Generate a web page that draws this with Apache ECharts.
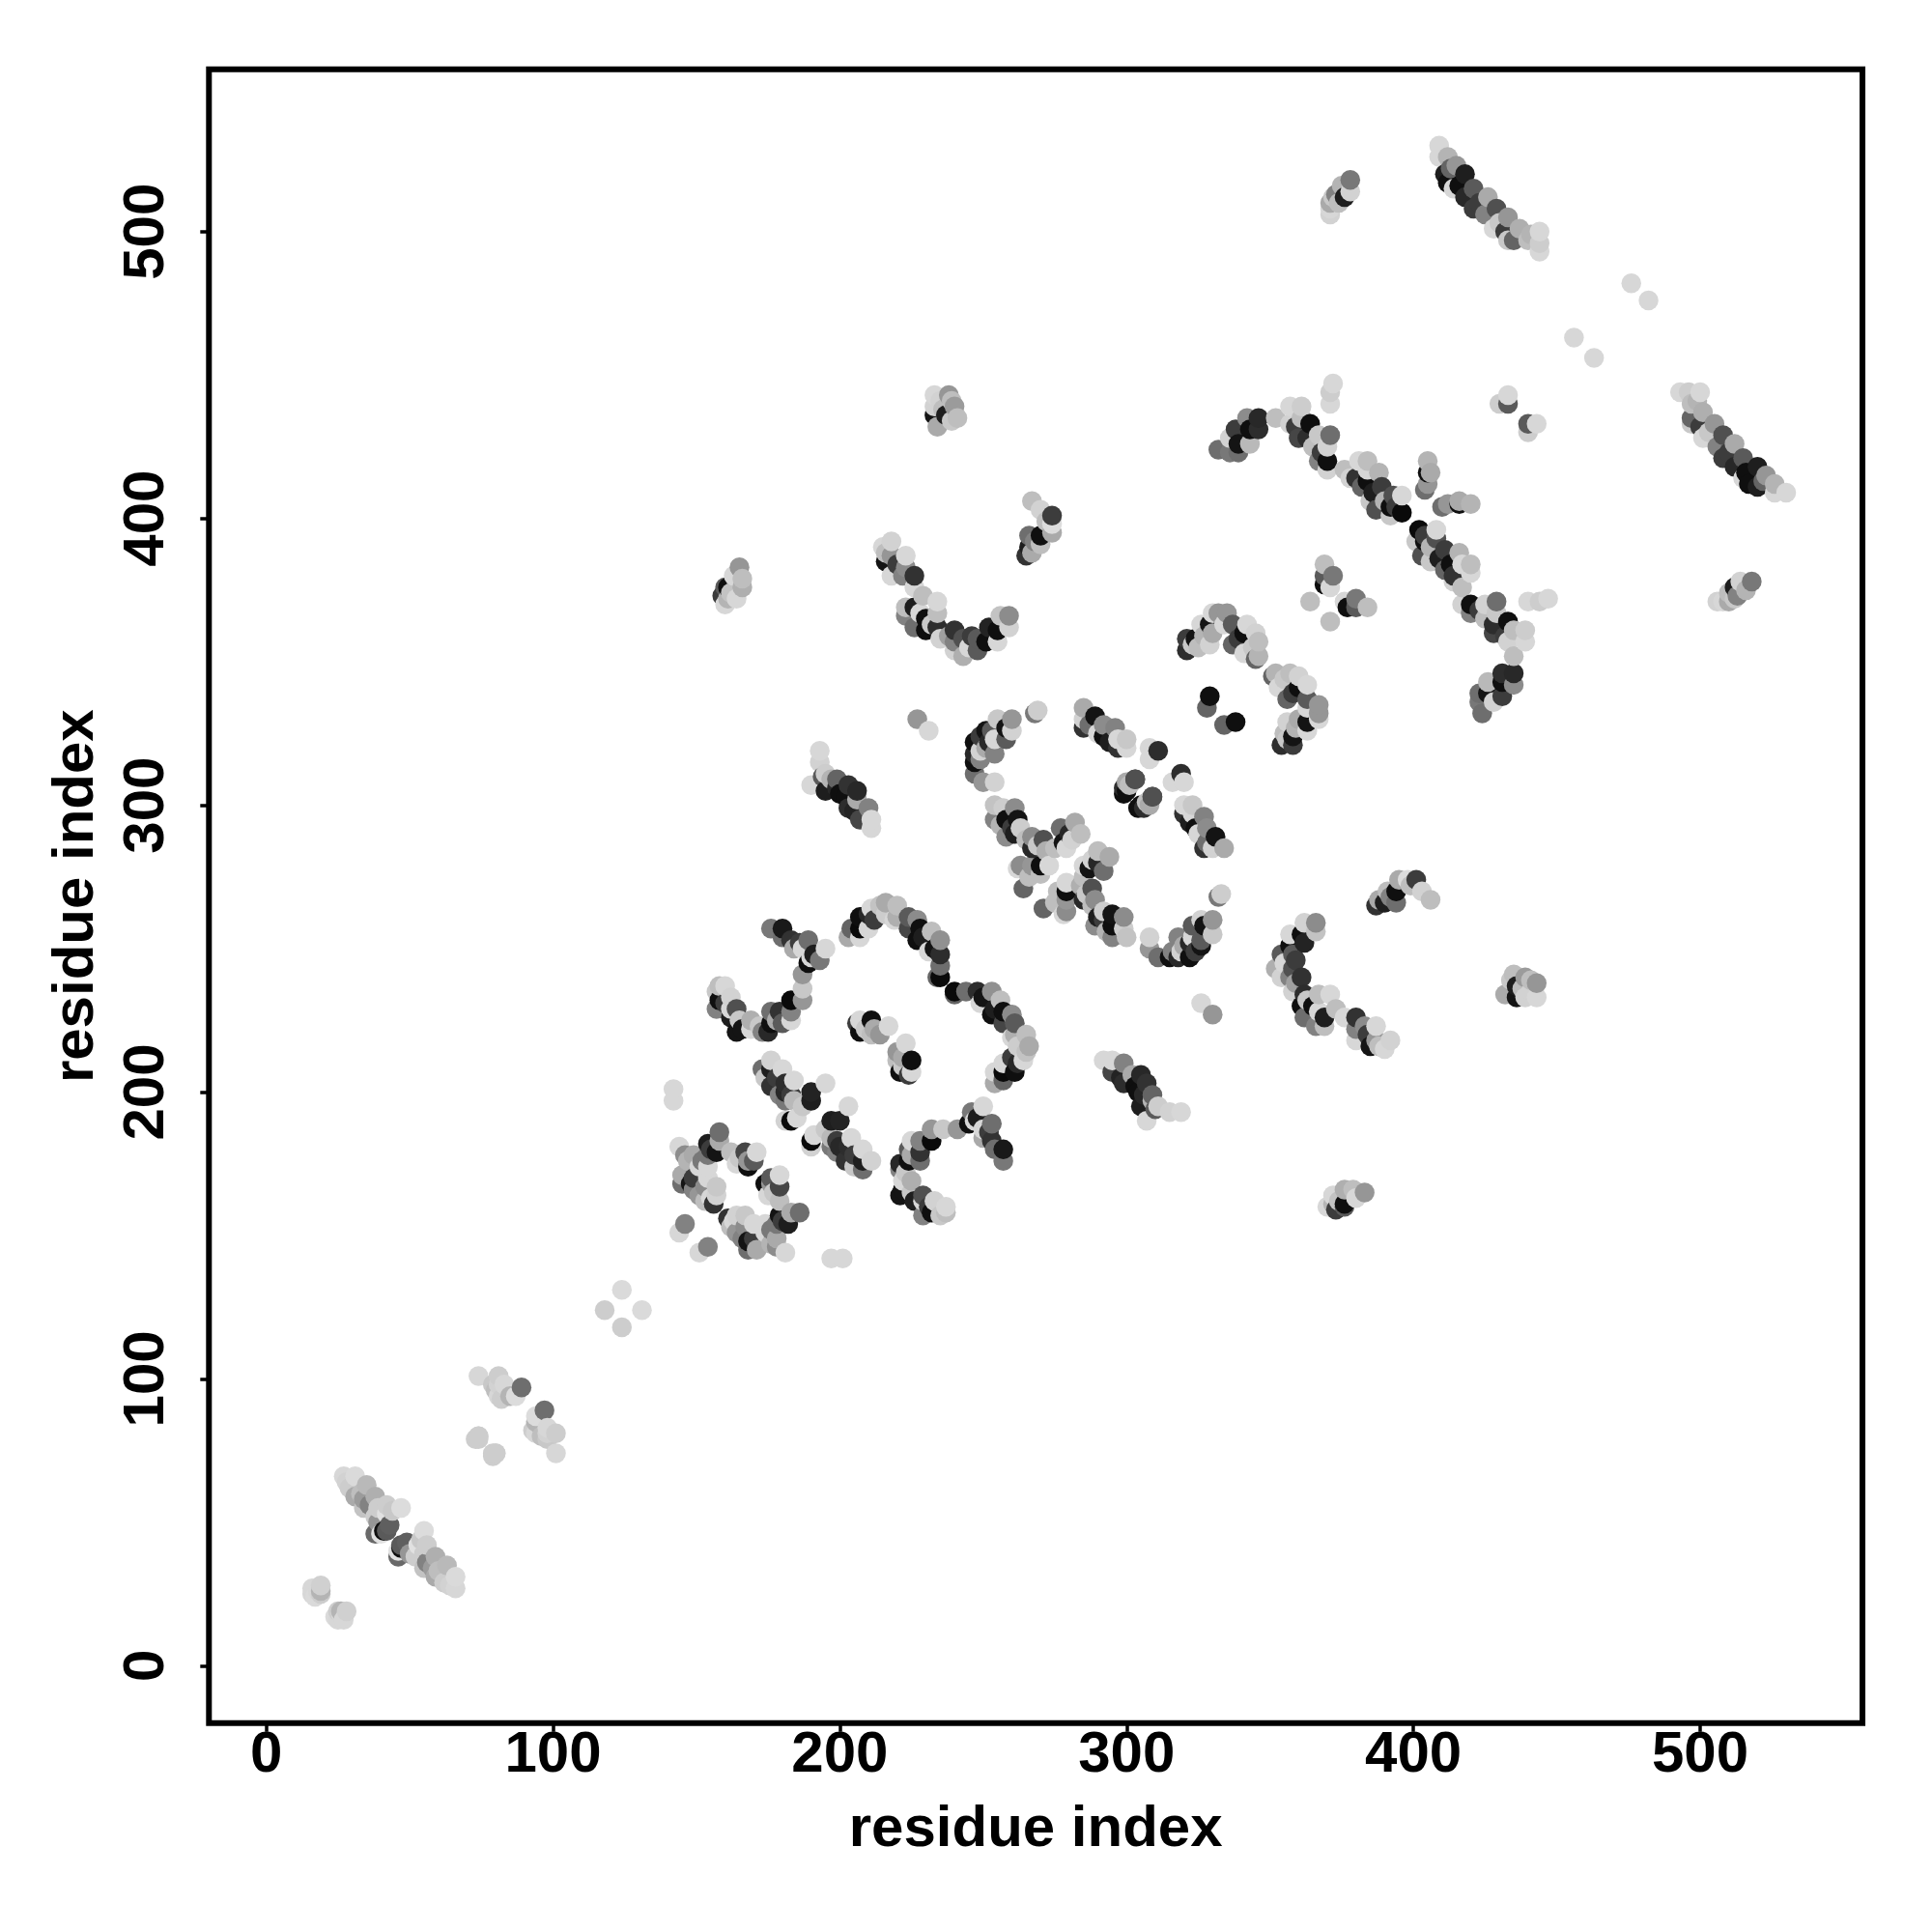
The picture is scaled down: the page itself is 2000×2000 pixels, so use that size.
<!DOCTYPE html>
<html><head><meta charset="utf-8">
<script src="https://cdn.jsdelivr.net/npm/echarts@6/dist/echarts.min.js"></script>
<style>html,body{margin:0;padding:0;background:#fff}#c{width:2000px;height:2000px}</style></head>
<body><div id="c"></div>
<script>
// Contacts as [residue i, residue j, grey level]; the map shows each contact at (i,j) and (j,i).
const termini=[[16,27,215],[19,28,208],[16,25,215],[19,25,205],[18,26,215],[17,24,218],[19,26,180]];
const sheetA=[[27,66,215],[31,66,218],[28,64,210],[35,63,185],[31,59,170],[34,58,155],[38,59,175],[42,56,205],[39,55,205],[47,55,220],[34,55,195],[38,52,205],[42,53,225],[43,49,95],[38,46,105],[40,46,225],[41,47,15],[29,62,205],[33,60,190],[36,56,130],[44,54,200],[39,50,150],[42,47,90]];
const sheetB=[[74,101,215],[81,101,205],[79,98,200],[81,94,215],[83,98,215],[85,94,180],[87,94,220],[89,97,110],[74,80,205],[81,98,210],[124,131,218],[118,124,205],[73,79,205],[80,96,190],[82,93,205],[80,74,205],[79,74,205]];
const loopA=[[142,201,215],[142,197,215],[146,154,130],[144,151,215],[144,181,215],[146,178,140],[158,186,110],[158,183,170],[154,182,30],[154,178,120],[157,179,20],[149,178,170],[154,174,215],[151,174,215],[162,179,190],[164,175,215],[167,179,70],[168,176,150],[171,179,215],[168,174,15],[145,171,170],[149,170,60],[154,170,215],[149,166,130],[153,167,140],[157,167,200],[157,164,210],[153,162,190],[156,161,50],[147,176,180],[152,176,120],[155,180,60],[148,168,20],[151,164,150],[155,163,215],[165,177,200],[170,176,90],[145,168,110]];
const strandB=[[176,211,210],[173,208,110],[176,208,30],[180,208,215],[174,205,200],[176,202,50],[181,203,45],[181,200,40],[184,204,215],[195,203,215],[190,200,35],[190,197,30],[184,197,185],[181,197,120],[185,191,215],[183,190,10],[181,190,210],[178,205,60],[183,199,60],[187,195,200],[179,199,130]];
const arcC=[[203,254,170],[204,257,100],[207,254,215],[207,257,10],[207,261,15],[210,257,215],[211,264,215],[210,262,40],[214,265,195],[216,266,170],[220,265,190],[220,261,175],[219,260,215],[224,261,90],[227,260,140],[224,257,70],[228,257,15],[232,256,190],[227,253,15],[235,253,145],[231,249,215],[235,248,45],[235,244,110],[235,240,10],[234,240,100],[212,260,60],[216,262,205],[229,254,30],[233,250,20]];
const innerD=[[206,224,60],[207,225,215],[211,225,15],[207,221,15],[211,220,190],[214,220,150],[217,223,215],[209,222,200],[212,222,170]];
const groupE=[[195,250,215],[193,246,120],[191,248,30],[189,245,15],[187,250,215],[189,253,110],[183,253,50],[184,250,170],[180,254,110],[180,257,25],[176,257,120],[187,241,150],[187,236,200],[187,232,150],[183,232,10],[183,228,130],[183,225,215],[179,228,50],[180,224,90],[176,224,15],[176,228,110],[175,221,40],[173,221,130],[169,222,215],[169,225,175],[165,225,200],[166,222,20],[164,221,20],[164,229,80],[162,229,215],[157,229,130],[158,232,15],[162,233,210],[160,237,215],[158,237,190],[162,226,30],[190,247,215],[186,252,60],[178,225,170],[172,223,200],[160,231,60],[157,235,200]];
const groupF=[[165,383,150],[166,379,190],[166,376,175],[164,372,215],[161,376,15],[160,376,90],[160,370,215],[159,373,60],[163,380,215],[162,374,195],[161,372,180]];
const groupF2=[[233,443,215],[238,443,150],[240,439,155],[241,435,190],[234,432,170],[233,436,20],[233,439,210],[237,436,30],[239,441,190],[235,441,210],[236,438,190],[239,434,200]];
const groupF3=[[267,406,190],[270,403,210],[274,401,60],[274,398,220],[274,395,170],[266,394,110],[270,394,15],[266,390,30],[267,388,170],[265,387,50],[270,391,190],[272,399,190],[268,392,130]];
const uShape=[[215,390,215],[218,392,210],[216,385,20],[218,387,150],[223,387,215],[223,383,140],[226,380,50],[218,380,215],[222,380,130],[226,376,215],[229,373,190],[234,371,215],[223,369,190],[223,366,130],[226,369,30],[226,362,110],[230,365,15],[230,361,15],[234,367,190],[234,362,45],[235,358,210],[240,361,50],[240,357,130],[240,354,210],[243,358,80],[243,352,175],[245,355,215],[248,354,90],[248,358,90],[252,362,35],[251,357,15],[255,361,15],[255,357,215],[256,366,195],[259,366,140],[259,362,210],[227,330,150],[231,326,215],[216,388,190],[220,384,60],[228,367,215],[232,363,200],[238,359,160],[246,359,60]];
const groupG=[[211,292,215],[211,295,215],[210,299,130],[207,295,70],[203,299,45],[206,302,170],[206,305,40],[203,307,50],[199,309,100],[200,304,15],[195,311,205],[194,310,90],[193,315,210],[193,319,215],[190,307,215],[195,305,30],[202,303,15],[205,298,35],[199,306,40],[197,309,180]];
const groupH=[[260,330,150],[255,330,200],[258,327,20],[258,323,90],[253,326,90],[251,326,20],[254,323,215],[247,322,15],[251,320,170],[254,318,130],[249,319,210],[247,318,40],[247,315,15],[247,311,110],[250,308,150],[254,308,210],[268,332,120],[269,333,205],[260,326,210],[249,324,60],[252,322,40],[249,316,130]];
const crossing=[[254,300,195],[254,295,130],[257,299,205],[261,299,140],[258,295,15],[262,295,20],[263,292,205],[258,289,140],[261,290,30],[267,289,140],[265,288,190],[267,285,40],[271,288,80],[272,284,175],[282,294,170],[277,292,110],[284,290,190],[280,290,40],[278,287,20],[281,288,210],[279,285,215],[273,279,215],[270,279,15],[263,279,140],[262,278,215],[267,279,150],[266,275,190],[270,276,190],[264,271,100],[256,293,180],[260,292,60],[269,286,200],[275,285,190]];
const groupH2=[[285,334,170],[289,331,20],[285,330,210],[285,327,50],[292,328,140],[296,327,130],[292,324,15],[290,325,215],[297,323,215],[300,323,200],[300,320,215],[297,320,50],[308,320,215],[311,319,45],[308,316,215],[303,309,70],[300,308,170],[299,306,45],[299,304,15],[307,301,190],[305,300,15],[309,303,80],[287,328,110],[294,322,30]];
const arcI=[[321,358,60],[321,354,45],[325,355,190],[324,358,20],[329,356,210],[326,363,215],[329,363,20],[330,360,170],[330,367,215],[332,367,150],[335,367,150],[337,363,90],[334,363,215],[342,363,215],[341,360,15],[337,356,100],[345,360,210],[346,357,190],[341,353,215],[346,352,180],[345,351,100],[329,338,15],[328,334,100],[323,356,200],[327,359,180],[339,358,60],[344,355,200]];
const strandJ=[[332,424,110],[336,428,210],[336,423,120],[339,423,110],[338,431,60],[339,426,20],[342,435,140],[343,426,185],[343,431,15],[346,435,40],[346,431,45],[352,435,190],[357,439,215],[361,439,205],[357,433,210],[361,435,190],[359,432,60],[360,428,70],[364,433,15],[363,428,45],[367,429,200],[371,429,110],[370,425,210],[367,420,130],[370,420,15],[370,417,210],[372,447,215],[371,444,205],[371,440,215],[376,417,190],[378,414,210],[381,420,215],[384,420,190],[380,414,50],[384,417,215],[388,416,180],[384,413,15],[389,411,60],[393,408,80],[396,408,215],[385,406,200],[387,403,80],[392,404,15],[396,402,10],[392,401,200],[365,425,190],[368,423,60],[382,411,100],[386,409,30],[390,406,180],[394,404,60]];
const groupK=[[369,384,190],[369,380,90],[372,380,120],[369,377,15],[371,376,215],[364,371,190],[405,420,180],[406,416,170],[405,416,15],[405,412,150],[404,410,110],[433,443,215],[430,440,205],[433,440,90]];
const strandL=[[409,530,215],[409,526,215],[412,526,180],[415,523,150],[411,520,30],[412,517,15],[418,520,30],[414,515,215],[416,516,15],[421,515,90],[418,512,40],[421,508,60],[426,512,170],[429,508,80],[425,506,130],[428,501,215],[433,505,150],[432,500,60],[433,497,200],[437,501,175],[435,497,100],[440,497,190],[444,500,215],[444,496,205],[444,493,215],[423,510,60],[430,503,200],[413,522,100],[441,499,180]];
const groupM=[[371,510,170],[371,506,210],[375,516,180],[378,518,120],[378,514,210],[376,512,30],[371,508,215],[373,513,130],[456,463,215],[476,482,215],[372,512,200],[374,510,190]];

const contactLists=[termini,sheetA,sheetB,loopA,strandB,arcC,innerD,groupE,groupF,groupF2,groupF3,uShape,groupG,groupH,crossing,groupH2,arcI,strandJ,groupK,strandL,groupM];
const xTicks=[0,100,200,300,400,500];
const yTicks=[0,100,200,300,400,500];
const axisName='residue index';

const marks=[];
contactLists.forEach(l=>l.forEach(([i,j,g])=>{marks.push([i,j,g]);marks.push([j,i,g]);}));
marks.sort((a,b)=>a[0]-b[0]||a[1]-b[1]);
const font='"Liberation Sans"';
function axis(ticks,extra){return Object.assign({type:'value',min:-20,max:556.6,name:axisName,nameLocation:'middle',
  nameTextStyle:{fontFamily:font,fontWeight:'bold',fontSize:60,color:'#000'},
  splitLine:{show:false},axisLine:{show:false,onZero:false},
  axisTick:{show:true,customValues:ticks,length:9,lineStyle:{color:'#000',width:3.5}}},extra);}
const chart=echarts.init(document.getElementById('c'),null,{renderer:'canvas'});
chart.setOption({animation:false,backgroundColor:'#fff',
 grid:{left:216.3,top:71.7,width:1711.7,height:1712,show:true,borderColor:'#000',borderWidth:6,backgroundColor:'transparent'},
 xAxis:axis(xTicks,{nameGap:81,axisLabel:{customValues:xTicks,margin:4,fontFamily:font,fontWeight:'bold',fontSize:60,color:'#000'}}),
 yAxis:axis(yTicks,{nameGap:107,axisLabel:{customValues:yTicks,rotate:90,margin:64,fontFamily:font,fontWeight:'bold',fontSize:60,color:'#000',align:'center',verticalAlign:'middle'}}),
 series:[{type:'scatter',symbol:'circle',symbolSize:20.5,silent:true,itemStyle:{opacity:1},
  data:marks.map(([x,y,g])=>({value:[x,y],itemStyle:{color:`rgb(${g},${g},${g})`,opacity:1}}))}]
});
</script></body></html>
